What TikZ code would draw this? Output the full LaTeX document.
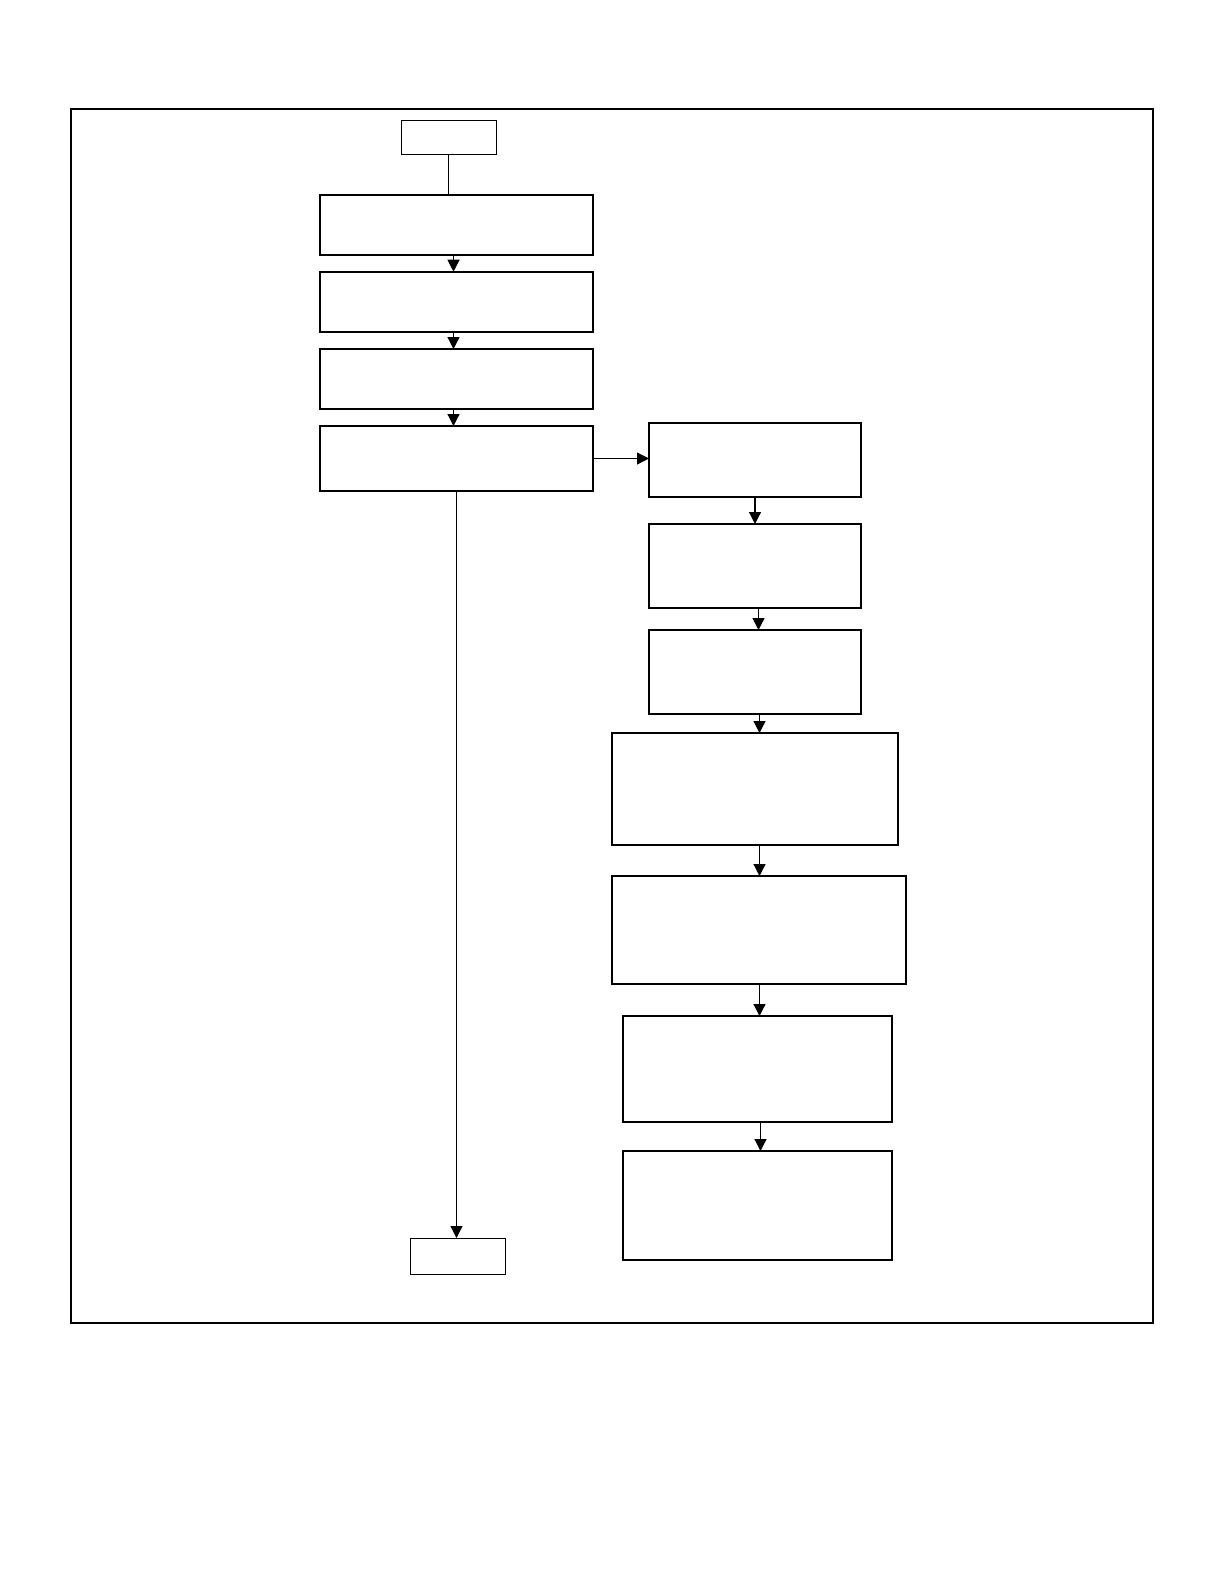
\documentclass[tikz,border=0pt]{standalone}
\usepackage{tikz}
\usetikzlibrary{arrows.meta}

\begin{document}
\begin{tikzpicture}[x=0.5pt, y=-0.5pt, line width=0.6pt,
    box/.style={draw, line width=1.1pt, inner sep=0pt, outer sep=0pt},
    term/.style={draw, line width=0.5pt, inner sep=0pt, outer sep=0pt,
                 minimum width=47.5pt},
    link/.style={line width=0.6pt, -{Triangle[length=6pt, width=6pt]}}]
  \useasboundingbox (0,0) rectangle (1224,1584);
  % the frame round it all
  \draw[line width=1pt] (70.7,109) rectangle (1153,1323);
  % left column
  \node[term, minimum height=17.25pt] (start) at (448.5,137.5) {};
  \node[box, minimum width=136.5pt, minimum height=30pt] (a1) at (456.5,224.8) {};
  \node[box, minimum width=136.5pt, minimum height=30pt] (a2) at (456.5,301.7) {};
  \node[box, minimum width=136.5pt, minimum height=30pt] (a3) at (456.5,379) {};
  \node[box, minimum width=136.5pt, minimum height=32.5pt] (a4) at (456.5,458.5) {};
  \node[term, minimum height=18pt] (stop) at (457.5,1256) {};
  % right column
  \node[box, minimum width=106pt, minimum height=37pt] (b1) at (755,460) {};
  \node[box, minimum width=106pt, minimum height=42pt] (b2) at (755,566) {};
  \node[box, minimum width=106pt, minimum height=42pt] (b3) at (755,672) {};
  \node[box, minimum width=143pt, minimum height=56pt] (b4) at (755,789) {};
  \node[box, minimum width=147pt, minimum height=54pt] (b5) at (759,930) {};
  \node[box, minimum width=134.5pt, minimum height=53pt] (b6) at (757.5,1069) {};
  \node[box, minimum width=134.5pt, minimum height=54.5pt] (b7) at (757.5,1205.5) {};
  % connectors
  \draw (start.south) -- (start.south |- a1.north);
  \draw[link] ([xshift=-1.5pt]a1.south) -- ([xshift=-1.5pt]a2.north);
  \draw[link] ([xshift=-1.5pt]a2.south) -- ([xshift=-1.5pt]a3.north);
  \draw[link] ([xshift=-1.5pt]a3.south) -- ([xshift=-1.5pt]a4.north);
  \draw[link] (a4.east) -- (a4.east -| b1.west);
  \draw[link] (a4.south) -- (a4.south |- stop.north);
  \draw[link] (b1.south) -- (b2.north);
  \draw[link] ([xshift=1.75pt]b2.south) -- ([xshift=1.75pt]b3.north);
  \draw[link] ([xshift=2.25pt]b3.south) -- ([xshift=2.25pt]b4.north);
  \draw[link] ([xshift=2.25pt]b4.south) -- ([xshift=2.25pt]b4.south |- b5.north);
  \draw[link] (b5.south -| b4.south) ++(2.25pt,0) coordinate (b56)
    (b56) -- (b56 |- b6.north);
  \draw[link] ([xshift=1.5pt]b6.south) -- ([xshift=1.5pt]b7.north);
\end{tikzpicture}
\end{document}
